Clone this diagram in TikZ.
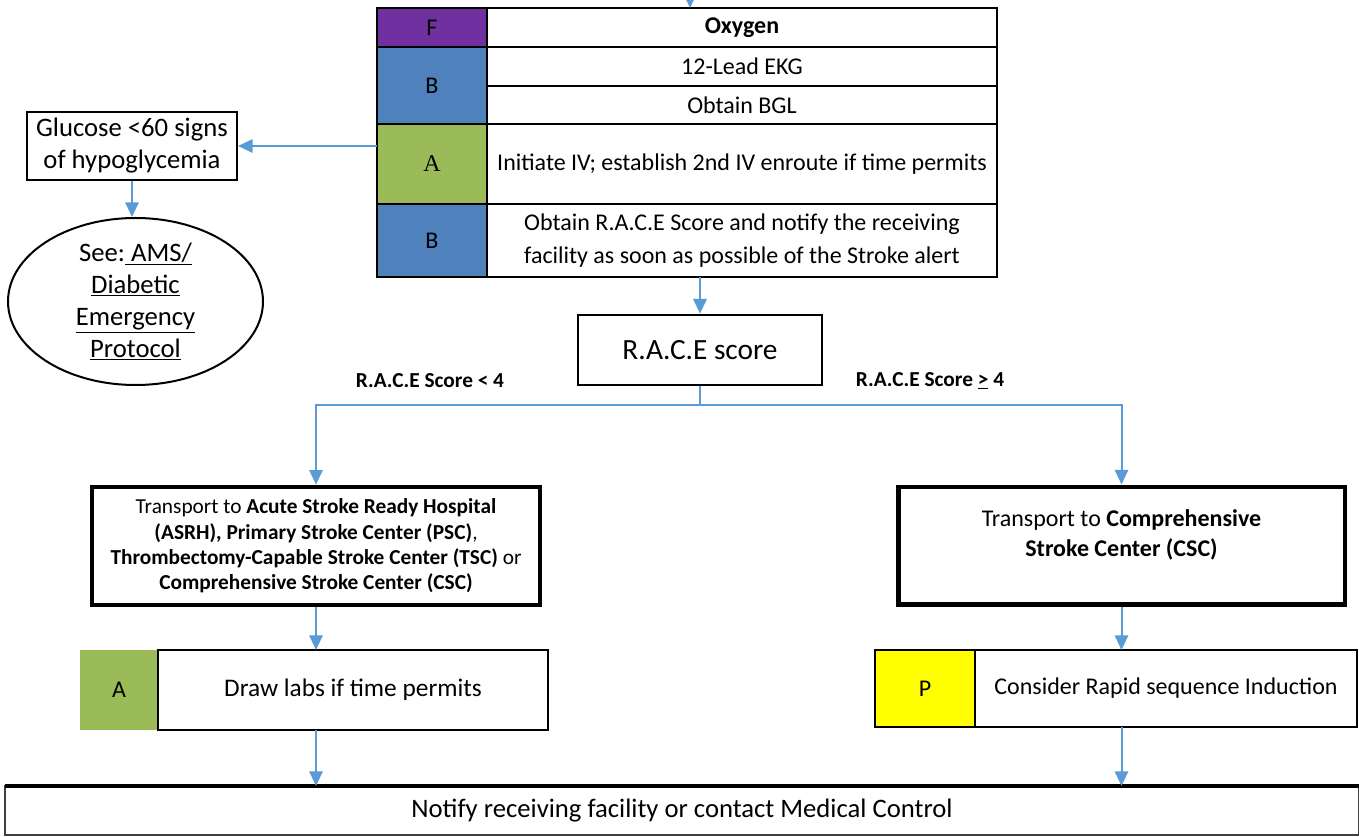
\documentclass[tikz,border=0pt]{standalone}
\usepackage{fontspec}
\setmainfont{Carlito}
\newfontfamily\tagserif{Liberation Serif}
\definecolor{flowblue}{HTML}{5B9BD5}
\definecolor{fpurple}{HTML}{7030A0}
\definecolor{bblue}{HTML}{4F81BD}
\definecolor{agreen}{HTML}{9BBB59}
\definecolor{pyellow}{HTML}{FFFF00}
\usetikzlibrary{calc, positioning, shapes.geometric, arrows.meta}

\begin{document}
\begin{tikzpicture}[x=0.75pt, y=-0.75pt,
  cell/.style={draw, line width=1pt, inner sep=0pt, outer sep=0pt, align=center,
               font=\fontsize{18}{24.5}\selectfont},
  tag/.style={cell, minimum width=82.5pt},
  task/.style={cell, minimum width=382.5pt},
  box/.style={draw, line width=1.5pt, inner sep=0pt, align=center},
  bigbox/.style={draw, line width=3.5pt, inner sep=0pt, align=center},
  flow/.style={draw=flowblue, line width=1.5pt, -{Triangle[width=10pt, length=11pt]}},
  split/.style={draw=flowblue, line width=1.5pt},
  score/.style={font=\fontsize{16}{18}\selectfont\bfseries},
]
\useasboundingbox (0,0) rectangle (1359,837);

% treatment table
\node[tag, fill=fpurple, minimum height=29.25pt] (f) at (432,27.5) {F};
\node[task, minimum height=29.25pt] (oxy) at (742,27.5) {\textbf{Oxygen}};
\node[tag, fill=bblue, minimum height=57.75pt] (b1) at (432,85.5) {B};
\node[task, minimum height=29.25pt] (ekg) at (742,66.5) {12-Lead EKG};
\node[task, minimum height=28.5pt] (bgl) at (742,105) {Obtain BGL};
\node[tag, fill=agreen, minimum height=60pt] (a1) at (432,164) {\tagserif A};
\node[task, minimum height=60pt] (iv) at (742,164) {Initiate IV; establish 2nd IV enroute if time permits};
\node[tag, fill=bblue, minimum height=54.75pt] (b2) at (432,240.5) {B};
\node[task, minimum height=54.75pt] (notifyrace) at (742,240.5)
  {Obtain R.A.C.E Score and notify the receiving\\facility as soon as possible of the Stroke alert};
\coordinate (entry) at (690,-5);

% hypoglycemia branch
\node[box, minimum width=157.5pt, minimum height=51pt, font=\fontsize{20}{24}\selectfont] (gluc) at (132,146)
  {Glucose <60 signs\\of hypoglycemia};
\node[box, ellipse, minimum width=191.25pt, minimum height=125.25pt, font=\fontsize{20}{24}\selectfont] (ams) at (135.5,301.5)
  {See:\underline{\ AMS/}\\\underline{Diabetic}\\\underline{Emergency}\\\underline{Protocol}};

% score
\node[box, line width=2pt, minimum width=183pt, minimum height=52.5pt, font=\fontsize{22}{26}\selectfont] (race) at (700,350) {R.A.C.E score};
\node[score] (low) at (430,381) {R.A.C.E Score < 4};
\node[score] (high) at (930,381) {R.A.C.E Score \underline{>} 4};
\coordinate (fork) at (700,405);

% transport
\node[bigbox, minimum width=336pt, minimum height=88.5pt, font=\fontsize{16}{19}\selectfont] (tleft) at (316,546)
  {Transport to \textbf{Acute Stroke Ready Hospital}\\\textbf{(ASRH), Primary Stroke Center (PSC)},\\
   \textbf{Thrombectomy-Capable Stroke Center (TSC)} or\\\textbf{Comprehensive Stroke Center (CSC)}};
\node[bigbox, minimum width=335pt, minimum height=88pt, font=\fontsize{18}{22.5}\selectfont] (tright) at (1121.5,545.5)
  {Transport to \textbf{Comprehensive}\\\textbf{Stroke Center (CSC)}\\[-4pt]};

% en route
\node[cell, draw=none, fill=agreen, minimum width=58.5pt, minimum height=60pt] (a2) at (119,690) {A};
\node[cell, line width=1.5pt, minimum width=292.5pt, minimum height=60pt, font=\fontsize{19}{22}\selectfont] (labs) at (353,690)
  {Draw labs if time permits};
\node[cell, line width=1.5pt, fill=pyellow, minimum width=75pt, minimum height=57.75pt] (p) at (925,688.5) {P};
\node[cell, line width=1.5pt, minimum width=286.5pt, minimum height=57.75pt, font=\fontsize{18}{22}\selectfont] (rsi) at (1166,688.5)
  {Consider Rapid sequence Induction};

\node[cell, draw=black!75, minimum width=1015.5pt, minimum height=36.75pt, font=\fontsize{20}{22}\selectfont] (notify) at (682,810.5)
  {Notify receiving facility or contact Medical Control};
\draw[line width=3pt] (notify.north west) -- (notify.north east);

% connectors
\draw[flow] (entry) -- (entry |- oxy.north);
\draw[flow] (notifyrace.south -| race.north) -- (race.north);
\draw[flow] (gluc.east -| a1.west) -- (gluc.east);
\draw[flow] (gluc.south) -- (gluc.south |- ams.north);
\draw[split] (race.south) -- (fork);
\draw[flow] (fork) -| (tleft.north);
\draw[flow] (fork) -| (tright.north);
\draw[flow] (tleft.south) -- (tleft.south |- labs.north);
\draw[flow] (tright.south) -- (tright.south |- rsi.north);
\draw[flow] (tleft.south |- labs.south) -- (tleft.south |- notify.north);
\draw[flow] (tright.south |- rsi.south) -- (tright.south |- notify.north);
\end{tikzpicture}
\end{document}
